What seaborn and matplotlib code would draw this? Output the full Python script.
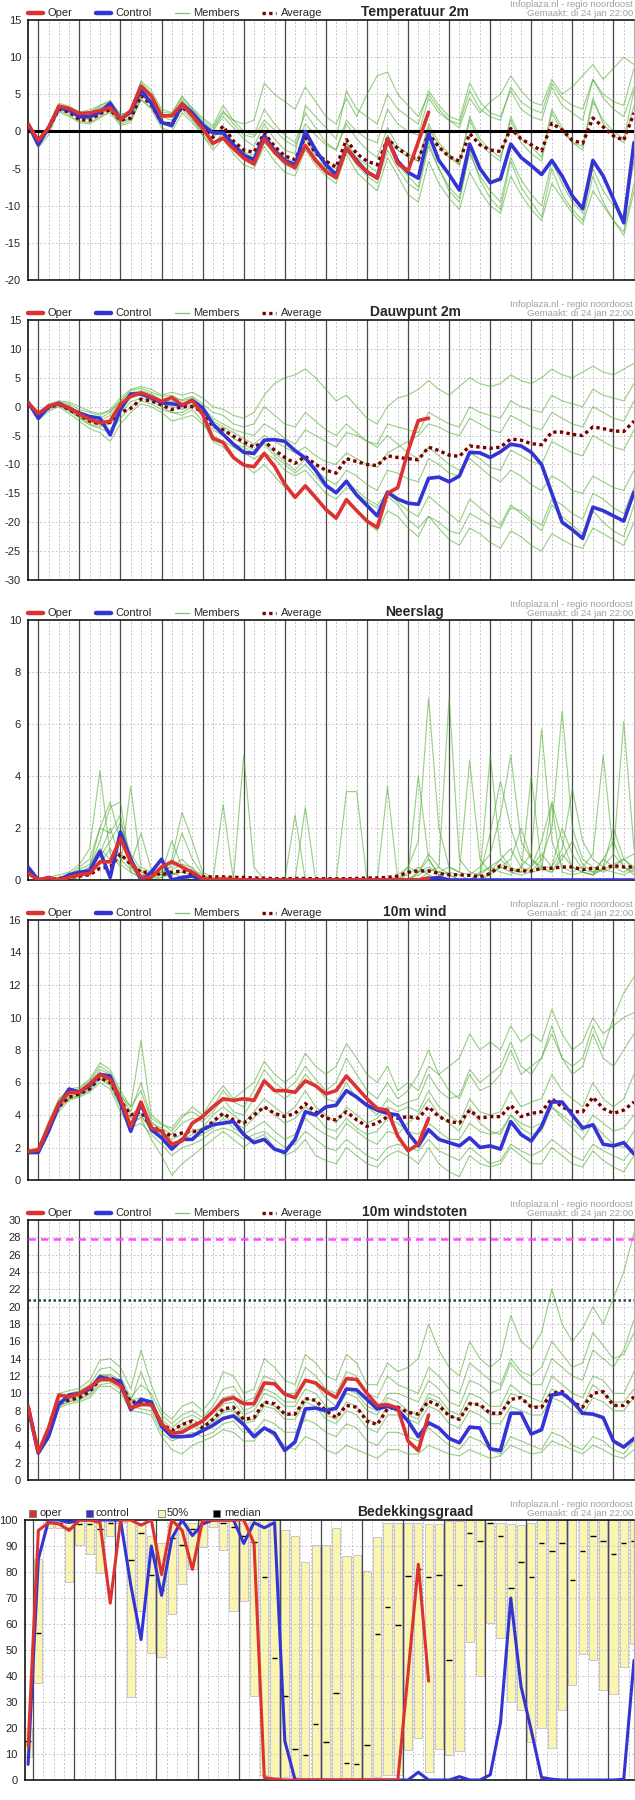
import numpy as np
import pandas as pd
import matplotlib
matplotlib.use('Agg')
import matplotlib.pyplot as plt
import seaborn as sns
from matplotlib.lines import Line2D
from matplotlib.patches import Rectangle

########################### data #################################################

day_labels = ['Wo 25', 'Do 26', 'Vr 27', 'Za 28', 'Zo 29', 'Ma 30', 'Di 31',
              'Wo 1', 'Do 2', 'Vr 3', 'Za 4', 'Zo 5', 'Ma 6', 'Di 7']

# hours after Wo 25 00:00, one value every 6 hours
hours = np.arange(60) * 6 - 6
cloud_hours = np.arange(60) * 6 - 3

# --- Temperatuur 2m
temp_oper = [1.0, -1.2, 0.5, 3.4, 3.1, 2.4, 2.5, 2.8, 3.2, 1.6, 2.8, 6.1,
             4.8, 2.1, 2.1, 3.7, 2.1, 0.4, -1.6, -0.9, -2.3, -3.6, -4.4, -1.0,
             -2.8, -4.1, -4.9, -1.9, -3.9, -5.4, -6.2, -2.2, -4.1, -5.4, -6.3, -1.0,
             -4.3, -5.3, -1.4, 2.6]
temp_control = [1.0, -1.8, 0.5, 3.2, 2.9, 2.0, 2.0, 2.6, 3.8, 1.6, 2.6, 5.6,
                3.8, 1.2, 0.8, 3.7, 2.5, 0.9, -0.2, -0.2, -1.8, -3.2, -3.8, -0.6,
                -2.6, -3.9, -4.5, 0.0, -2.5, -4.5, -5.8, -2.3, -3.9, -5.5, -6.2, -1.0,
                -4.0, -5.5, -6.3, -0.3, -3.9, -5.8, -7.9, -1.7, -5.0, -6.9, -6.4, -1.7,
                -3.5, -4.6, -5.8, -3.9, -6.0, -8.7, -10.4, -3.9, -6.0, -9.1, -12.3, -1.5]
temp_avg = [1.0, -1.5, 0.4, 3.0, 2.6, 1.6, 1.5, 2.4, 2.9, 1.5, 1.8, 4.8,
            3.6, 1.2, 1.0, 3.3, 2.2, 0.7, -0.8, 0.7, -1.3, -2.5, -2.8, -0.2,
            -2.0, -3.3, -3.8, -0.8, -2.9, -4.0, -4.8, -1.1, -3.0, -4.0, -4.5, -1.0,
            -2.3, -3.2, -3.8, -0.3, -2.1, -3.4, -4.0, -0.3, -1.8, -2.5, -2.7, 0.4,
            -1.0, -1.8, -2.6, 1.1, 0.2, -1.2, -1.6, 1.8, 0.6, -0.6, -1.2, 2.5]
temp_members = [
    [1.2, -1.0, 0.2, 3.6, 3.2, 2.6, 2.9, 3.5, 4.2, 2.0, 2.7, 6.6,
     5.0, 2.6, 2.4, 4.8, 3.0, 1.5, 0.5, 2.8, 1.0, -0.5, -0.8, 1.5,
     0.2, -1.2, -2.0, 1.0, -0.5, -1.8, -2.5, 1.5, 0.0, -1.0, -1.5, 3.0,
     1.0, 0.0, -0.5, 4.5, 2.5, 1.5, 1.0, 5.5, 3.0, 2.0, 1.5, 6.0,
     4.0, 3.0, 2.5, 6.5, 4.5, 3.5, 3.0, 7.0, 5.0, 4.0, 3.5, 8.5],
    [0.8, -2.2, -0.5, 2.8, 2.2, 1.4, 1.2, 2.0, 2.5, 0.8, 1.2, 4.4,
     3.0, 0.5, 0.0, 2.5, 1.2, -0.5, -2.5, -1.0, -3.0, -4.5, -5.0, -2.0,
     -4.0, -5.5, -6.0, -2.5, -4.5, -6.0, -7.0, -3.0, -5.5, -6.8, -8.0, -3.5,
     -6.0, -8.5, -9.5, -4.0, -7.0, -9.0, -10.5, -5.5, -8.0, -10.0, -11.0, -6.0,
     -8.5, -10.5, -12.0, -7.0, -9.0, -11.0, -12.5, -8.0, -10.0, -12.0, -13.5, -7.0],
    [1.1, -1.4, 0.5, 3.1, 2.5, 1.8, 1.6, 2.5, 3.0, 1.3, 1.9, 5.0,
     3.5, 1.0, 1.2, 3.5, 2.0, 0.5, -1.0, 0.8, -1.5, -2.8, -3.2, 0.0,
     -2.2, -3.5, -4.2, -1.0, -3.0, -4.5, -5.0, -1.5, -3.5, -4.5, -5.5, -0.5,
     -2.5, -3.5, -4.0, 0.5, -2.0, -3.5, -4.5, 1.5, -1.5, -3.0, -4.0, 2.0,
     -1.0, -2.0, -3.5, 3.0, 0.5, -1.5, -2.0, 4.5, 1.0, -0.5, -1.5, 3.5],
    [1.3, -1.6, 0.0, 3.3, 2.9, 2.2, 2.2, 3.0, 3.3, 1.8, 2.4, 5.8,
     4.5, 2.0, 1.5, 4.0, 2.5, 1.0, 0.0, 2.0, 0.5, -1.0, -2.0, 1.0,
     -1.0, -2.5, -3.0, 3.5, 2.0, 0.5, -1.0, 5.5, 3.0, 2.0, 1.0, 5.0,
     3.0, 2.0, 1.0, 5.5, 3.5, 2.0, 1.5, 6.5, 4.0, 2.5, 2.0, 5.5,
     3.0, 2.0, 1.5, 6.0, 3.5, 2.5, 1.5, 7.0, 4.5, 3.0, 2.0, 6.0],
    [0.9, -2.0, 0.3, 2.6, 2.0, 1.2, 1.0, 1.8, 2.8, 1.0, 1.5, 4.2,
     3.2, 1.5, 0.8, 3.0, 1.5, 0.0, -1.5, -0.5, -2.5, -3.5, -4.0, -1.5,
     -3.0, -4.5, -5.0, -2.0, -4.0, -5.5, -6.5, -2.5, -4.5, -6.0, -7.0, -2.5,
     -5.0, -7.0, -8.0, -2.0, -5.0, -7.5, -9.0, -3.0, -6.0, -8.0, -9.5, -3.5,
     -6.5, -8.5, -10.0, -4.0, -7.0, -9.5, -11.0, -5.0, -8.0, -10.0, -11.5, -4.0],
    [1.4, -1.2, 0.6, 3.8, 3.4, 2.6, 2.5, 3.2, 3.6, 2.2, 2.8, 6.8,
     5.5, 3.0, 2.5, 4.5, 3.2, 1.8, 0.8, 3.5, 1.5, 0.0, -0.5, 3.0,
     1.0, -0.5, -1.5, 2.5, 0.5, -1.5, -2.5, 1.0, -1.0, -2.5, -3.5, 0.5,
     -2.0, -3.0, -4.0, 1.0, -1.5, -3.0, -4.5, 2.0, -1.0, -2.5, -3.5, 1.5,
     -1.5, -3.0, -4.0, 2.5, 0.0, -1.5, -2.5, 4.0, 1.5, 0.0, -1.0, 5.5],
    [1.0, -1.8, 0.1, 2.9, 2.6, 1.9, 1.7, 2.3, 3.0, 1.4, 1.6, 4.9,
     3.9, 1.3, 0.5, 3.4, 1.8, -0.5, -2.0, 0.0, -2.0, -3.0, -3.5, -0.5,
     -2.5, -4.0, -4.5, -0.5, -3.5, -5.0, -6.0, -1.5, -4.0, -5.5, -6.5, -1.0,
     -4.5, -6.0, -7.5, -1.5, -5.0, -8.0, -9.5, -2.5, -6.5, -9.0, -10.5, -4.0,
     -7.5, -9.5, -11.5, -5.0, -8.5, -10.5, -12.0, -6.0, -9.5, -12.0, -14.0, -8.0],
    [1.2, -1.1, 0.4, 3.5, 3.0, 2.3, 2.6, 3.4, 4.0, 2.4, 2.3, 5.3,
     4.2, 2.2, 2.0, 4.2, 2.8, 1.2, 0.2, 2.5, 1.5, 1.0, 1.5, 6.5,
     5.0, 4.0, 3.0, 6.0, 4.0, 2.0, 1.0, 4.5, 2.0, 5.0, 7.5, 8.0,
     5.0, 3.5, 2.0, 5.0, 3.0, 1.5, 0.5, 4.5, 2.5, 4.0, 5.0, 7.5,
     5.5, 4.0, 3.5, 7.0, 5.0, 6.0, 7.5, 9.0, 7.0, 8.5, 10.0, 9.0],
]

# --- Dauwpunt 2m
dew_oper = [0.7, -1.2, 0.1, 0.5, -0.2, -1.3, -2.2, -2.8, -2.5, 0.4, 1.8, 2.4,
            1.7, 0.9, 1.6, 0.3, 1.1, -1.3, -5.5, -6.2, -8.8, -10.1, -10.4, -8.1,
            -10.3, -13.4, -15.7, -13.7, -15.7, -17.8, -19.3, -16.1, -18.0, -19.8, -20.9, -15.0,
            -14.0, -7.7, -2.4, -2.0]
dew_control = [0.8, -2.0, 0.0, 0.6, -0.3, -1.1, -1.7, -2.0, -4.9, -0.5, 2.2, 2.2,
               1.5, 0.7, 0.5, 0.2, 1.1, -0.2, -3.0, -4.8, -6.5, -7.9, -8.1, -5.8,
               -5.7, -6.0, -7.6, -8.9, -11.0, -13.6, -14.9, -12.9, -15.3, -17.1, -18.9, -14.8,
               -16.0, -16.7, -16.9, -12.4, -12.2, -13.0, -12.0, -7.9, -8.0, -8.8, -7.8, -6.5,
               -6.8, -7.9, -10.0, -15.0, -20.0, -21.3, -22.8, -17.4, -18.0, -18.9, -19.8, -14.8]
dew_avg = [0.7, -1.5, -0.2, 0.4, -0.5, -1.5, -2.5, -3.0, -2.7, -1.0, -0.3, 1.3,
           1.0, 0.3, -0.5, 0.0, 0.0, -0.9, -3.4, -4.0, -5.1, -6.1, -7.0, -6.0,
           -7.5, -8.8, -9.8, -8.6, -10.0, -11.0, -11.5, -9.0, -9.5, -10.0, -10.2, -8.5,
           -8.8, -9.0, -9.2, -7.0, -7.6, -8.4, -8.6, -6.8, -7.0, -7.2, -7.0, -5.6,
           -5.8, -6.4, -6.6, -4.4, -4.4, -4.8, -5.0, -3.5, -3.8, -4.2, -4.3, -2.5]
dew_members = [
    [0.9, -1.5, 0.2, 0.6, 0.0, -1.0, -1.8, -2.0, -1.0, 1.0, 2.8, 3.2,
     2.5, 1.8, 2.0, 1.0, 1.5, 0.0, -2.0, -3.0, -4.0, -4.5, -5.0, -3.0,
     -4.0, -5.5, -6.5, -4.0, -5.0, -6.0, -7.0, -4.5, -5.0, -6.0, -6.5, -3.0,
     -3.5, -4.0, -4.5, -1.0, -2.0, -3.0, -3.5, 0.0, -1.0, -1.5, -2.0, 1.0,
     0.0, -0.5, -1.0, 2.0, 1.0, 0.5, 0.0, 3.0, 2.0, 1.5, 1.0, 4.0],
    [0.6, -2.2, -0.5, 0.2, -0.8, -2.0, -3.2, -3.8, -4.5, -2.0, 0.0, 1.0,
     0.5, -0.5, -1.0, -1.5, -0.5, -2.5, -6.0, -7.0, -9.0, -10.0, -11.5, -10.0,
     -12.0, -14.0, -15.5, -14.0, -16.0, -17.5, -19.0, -16.5, -18.0, -20.0, -21.5, -18.0,
     -19.0, -21.0, -22.5, -19.0, -20.0, -21.5, -22.0, -18.5, -19.5, -20.5, -21.0, -17.5,
     -18.0, -19.5, -20.5, -16.0, -17.0, -18.5, -19.5, -15.0, -16.0, -17.5, -18.5, -14.0],
    [0.7, -1.8, -0.2, 0.5, -0.3, -1.6, -2.6, -3.2, -2.8, -0.5, 1.5, 2.0,
     1.5, 0.5, 0.0, -0.5, 0.5, -1.5, -4.0, -5.0, -6.5, -7.0, -8.0, -6.0,
     -8.0, -9.5, -11.0, -9.0, -11.0, -12.5, -13.5, -11.0, -12.0, -13.5, -14.5, -11.0,
     -11.5, -12.5, -13.0, -9.0, -10.0, -11.5, -12.0, -8.0, -9.0, -10.5, -11.0, -7.5,
     -8.5, -9.5, -10.0, -6.0, -7.0, -8.0, -8.5, -5.0, -6.0, -7.0, -7.5, -4.0],
    [0.8, -1.2, 0.3, 0.8, 0.5, -0.5, -1.0, -1.5, -0.5, 1.5, 3.0, 3.5,
     3.0, 2.0, 2.5, 2.0, 2.5, 1.5, 0.0, -0.5, -1.5, -2.0, -1.0, 2.0,
     4.0, 5.0, 5.5, 6.5, 5.0, 3.0, 1.0, 2.0, 0.0, -2.0, -3.0, 0.0,
     1.5, 2.0, 3.0, 4.5, 3.0, 2.0, 3.5, 5.0, 4.0, 3.5, 4.0, 5.5,
     4.5, 4.0, 5.0, 6.5, 5.5, 5.0, 6.0, 7.0, 6.0, 5.5, 6.5, 7.5],
    [0.7, -2.0, 0.0, 0.3, -0.6, -1.8, -3.0, -3.5, -3.0, -1.0, 0.8, 1.5,
     1.0, 0.0, -1.0, -1.0, 0.0, -1.0, -3.0, -4.0, -5.5, -6.5, -7.5, -6.5,
     -8.5, -10.0, -11.5, -10.0, -12.0, -14.0, -15.0, -13.0, -14.5, -16.0, -17.0, -15.0,
     -16.5, -18.0, -19.0, -15.5, -17.0, -18.5, -20.0, -16.0, -17.5, -19.0, -20.5, -17.0,
     -18.5, -20.0, -21.5, -17.0, -19.0, -20.5, -22.0, -18.0, -20.0, -21.5, -22.5, -17.0],
    [0.8, -1.6, 0.1, 0.7, 0.2, -1.2, -2.2, -2.5, -1.5, 0.5, 2.2, 2.6,
     2.0, 1.0, 1.0, 0.5, 1.0, -0.5, -2.5, -3.5, -4.5, -5.5, -6.5, -5.0,
     -6.0, -7.0, -8.0, -7.0, -8.5, -9.5, -10.0, -8.0, -9.0, -10.0, -10.5, -8.0,
     -7.0, -6.0, -5.0, -3.0, -3.5, -4.5, -5.0, -2.0, -3.0, -4.0, -4.5, -1.5,
     -2.5, -3.5, -4.0, -1.0, -2.0, -3.0, -3.5, 0.0, -1.0, -2.0, -2.5, 1.0],
    [0.9, -1.4, 0.5, 1.0, 0.8, 0.0, -0.8, -1.2, -0.8, 1.0, 2.4, 2.8,
     2.2, 1.2, 1.5, 1.2, 1.8, 0.5, -1.0, -1.5, -3.0, -3.5, -3.0, 0.0,
     -1.5, -3.0, -3.5, -1.0, -2.5, -4.0, -5.0, -3.0, -4.5, -6.0, -7.0, -5.0,
     -6.5, -8.0, -9.0, -7.0, -8.5, -10.0, -11.0, -9.0, -10.5, -12.0, -13.0, -11.0,
     -12.0, -13.5, -14.5, -12.0, -13.0, -14.5, -15.0, -12.0, -13.0, -14.0, -14.5, -11.0],
    [0.6, -2.4, -0.8, 0.0, -1.2, -2.5, -3.8, -4.5, -6.0, -3.0, -1.0, 0.5,
     0.0, -1.0, -2.5, -2.0, -1.5, -3.0, -5.0, -6.0, -7.0, -8.0, -9.0, -8.0,
     -9.0, -11.0, -12.0, -11.0, -13.0, -15.0, -16.0, -14.0, -15.0, -16.5, -17.5, -15.5,
     -17.0, -19.5, -21.0, -19.0, -21.0, -23.0, -24.0, -21.0, -22.0, -23.5, -24.5, -21.5,
     -22.5, -24.0, -25.0, -22.0, -23.0, -24.0, -24.5, -21.0, -22.0, -23.0, -24.0, -20.0],
]

# --- Neerslag
rain_oper = [0.27, 0.0, 0.1, 0.0, 0.1, 0.2, 0.25, 0.7, 0.7, 1.6, 0.7, 0.1,
             0.1, 0.5, 0.7, 0.5, 0.3, 0.05, 0.0, 0.05, 0.02, 0.0, 0.0, 0.0,
             0.0, 0.0, 0.0, 0.0, 0.0, 0.0, 0.0, 0.0, 0.0, 0.0, 0.0, 0.0,
             0.0, 0.0, 0.0, 0.08]
rain_control = [0.5, 0.0, 0.0, 0.0, 0.2, 0.3, 0.35, 1.1, 0.1, 1.85, 0.8, 0.0,
                0.3, 0.8, 0.0, 0.1, 0.15, 0.0, 0.0, 0.0, 0.0, 0.0, 0.0, 0.0,
                0.0, 0.0, 0.0, 0.0, 0.0, 0.0, 0.0, 0.0, 0.0, 0.0, 0.0, 0.0,
                0.0, 0.0, 0.0, 0.05, 0.1, 0.0, 0.0, 0.0, 0.0, 0.0, 0.0, 0.0,
                0.0, 0.0, 0.0, 0.0, 0.0, 0.0, 0.0, 0.0, 0.0, 0.0, 0.0, 0.0]
rain_avg = [0.3, 0.02, 0.05, 0.05, 0.1, 0.15, 0.2, 0.45, 0.5, 1.0, 0.6, 0.3,
            0.3, 0.2, 0.3, 0.35, 0.2, 0.12, 0.12, 0.12, 0.1, 0.1, 0.08, 0.07,
            0.05, 0.05, 0.06, 0.06, 0.05, 0.05, 0.05, 0.05, 0.06, 0.08, 0.08, 0.1,
            0.15, 0.3, 0.35, 0.35, 0.25, 0.2, 0.2, 0.18, 0.12, 0.25, 0.55, 0.4,
            0.35, 0.35, 0.45, 0.45, 0.5, 0.5, 0.4, 0.45, 0.45, 0.55, 0.5, 0.5]
rain_members = [
    [0.3, 0.0, 0.0, 0.1, 0.2, 0.5, 0.8, 2.0, 3.0, 1.5, 0.8, 0.3,
     0.2, 0.5, 0.3, 0.1, 0.0, 0.0, 0.0, 0.0, 0.0, 0.0, 0.0, 0.0,
     0.0, 0.0, 0.0, 0.0, 0.0, 0.0, 0.0, 0.0, 0.0, 0.0, 0.0, 0.0,
     0.0, 0.5, 1.5, 7.0, 2.0, 0.5, 0.3, 0.2, 0.5, 1.0, 2.5, 4.8,
     1.5, 0.8, 0.4, 0.3, 1.0, 0.5, 0.3, 0.2, 0.8, 1.5, 0.5, 0.2],
    [0.2, 0.0, 0.1, 0.2, 0.3, 0.6, 1.2, 4.2, 1.0, 0.5, 3.6, 0.5,
     0.3, 0.2, 0.8, 2.6, 1.5, 0.3, 0.1, 0.0, 0.0, 4.8, 0.5, 0.0,
     0.0, 0.0, 0.0, 0.0, 0.0, 0.0, 0.0, 0.0, 0.0, 0.0, 0.0, 0.0,
     0.2, 0.5, 0.3, 1.0, 0.5, 7.0, 0.8, 0.3, 0.2, 0.5, 0.8, 1.2,
     0.5, 0.3, 0.8, 2.0, 6.5, 2.0, 0.8, 0.5, 0.3, 0.5, 0.8, 1.0],
    [0.4, 0.0, 0.0, 0.0, 0.1, 0.3, 0.5, 1.5, 2.8, 3.0, 0.5, 0.2,
     0.1, 0.3, 0.5, 0.8, 0.4, 0.2, 0.0, 2.9, 0.0, 0.0, 0.0, 0.0,
     0.0, 0.0, 2.5, 0.0, 0.0, 0.0, 0.0, 3.4, 3.4, 0.0, 0.0, 0.0,
     0.0, 0.0, 0.3, 0.5, 0.3, 0.2, 0.0, 0.0, 0.2, 1.8, 3.8, 2.0,
     0.8, 0.5, 1.5, 3.0, 1.5, 0.5, 0.3, 0.2, 0.5, 1.0, 6.1, 1.2],
    [0.3, 0.0, 0.0, 0.0, 0.0, 0.1, 0.3, 1.0, 2.0, 0.8, 0.4, 0.2,
     0.2, 0.2, 0.2, 0.3, 0.2, 0.0, 0.0, 0.0, 0.0, 0.0, 0.0, 0.0,
     0.0, 0.0, 0.0, 2.8, 0.0, 0.0, 0.0, 0.0, 0.0, 0.0, 0.0, 3.6,
     0.0, 0.3, 4.0, 0.8, 0.2, 0.0, 0.0, 0.0, 0.3, 0.5, 0.3, 0.2,
     0.5, 1.0, 5.8, 1.5, 0.5, 0.3, 0.5, 1.0, 4.8, 1.0, 0.5, 0.3],
    [0.2, 0.0, 0.0, 0.1, 0.2, 0.3, 0.4, 0.9, 1.5, 2.2, 1.0, 0.4,
     0.1, 0.1, 0.2, 0.4, 0.3, 0.1, 0.0, 0.0, 0.0, 0.0, 0.0, 0.0,
     0.0, 0.0, 0.0, 0.0, 0.0, 0.0, 0.0, 0.0, 0.0, 0.0, 0.0, 0.0,
     0.0, 0.0, 0.2, 0.4, 0.3, 0.5, 0.3, 4.6, 0.8, 0.3, 0.5, 0.8,
     2.0, 0.8, 0.5, 0.5, 1.2, 3.5, 1.5, 0.8, 0.5, 2.0, 0.8, 0.5],
    [0.5, 0.0, 0.0, 0.0, 0.1, 0.2, 0.5, 2.0, 1.8, 2.5, 0.3, 0.1,
     0.0, 0.1, 0.4, 0.6, 0.5, 0.0, 0.0, 0.0, 0.0, 0.0, 0.0, 0.0,
     0.0, 0.0, 0.0, 0.0, 0.0, 0.0, 0.0, 0.0, 0.0, 0.0, 0.0, 0.0,
     0.0, 0.2, 0.5, 0.2, 0.0, 0.0, 0.0, 0.0, 0.0, 0.2, 0.5, 0.3,
     0.2, 0.3, 0.4, 2.9, 0.3, 0.2, 0.3, 0.2, 0.4, 0.3, 0.2, 0.4],
    [0.3, 0.0, 0.0, 0.0, 0.2, 0.4, 0.6, 1.2, 0.8, 1.0, 0.6, 1.8,
     0.4, 0.3, 1.5, 0.5, 0.2, 0.0, 0.0, 0.0, 0.0, 0.0, 0.0, 0.0,
     0.0, 0.0, 0.0, 0.0, 0.0, 0.0, 0.0, 0.0, 0.0, 0.0, 0.0, 0.0,
     0.0, 0.0, 0.3, 0.8, 0.2, 0.3, 0.2, 0.0, 0.2, 4.8, 1.0, 0.5,
     0.3, 0.5, 1.0, 0.5, 2.0, 1.0, 0.4, 0.3, 0.8, 0.5, 0.3, 0.5],
    [0.2, 0.0, 0.0, 0.0, 0.1, 0.2, 0.3, 0.6, 1.2, 0.6, 0.3, 0.1,
     0.1, 0.2, 0.6, 1.8, 0.8, 0.2, 0.0, 0.0, 0.0, 0.0, 0.0, 0.0,
     0.0, 0.0, 0.0, 0.0, 0.0, 0.0, 0.0, 0.0, 0.0, 0.0, 0.0, 0.0,
     0.0, 0.0, 0.0, 0.3, 0.5, 0.2, 0.0, 0.0, 0.0, 0.3, 0.8, 0.4,
     0.3, 4.0, 0.5, 0.3, 0.8, 1.5, 0.6, 0.3, 0.4, 0.6, 0.8, 0.4],
]

# --- 10m wind
wind_oper = [1.75, 1.85, 3.3, 4.7, 5.4, 5.4, 5.9, 6.5, 6.2, 5.0, 3.3, 4.8,
             3.2, 3.0, 2.2, 2.4, 3.5, 3.9, 4.5, 5.0, 4.9, 5.0, 4.9, 6.1,
             5.5, 5.5, 5.4, 6.1, 5.8, 5.3, 5.5, 6.4, 5.7, 5.0, 4.4, 4.3,
             2.7, 1.8, 2.2, 3.8]
wind_control = [1.7, 1.7, 3.0, 4.6, 5.6, 5.4, 5.8, 6.5, 6.4, 4.8, 3.0, 4.7,
                3.1, 2.6, 1.9, 2.5, 2.5, 3.1, 3.4, 3.5, 3.6, 2.8, 2.3, 2.5,
                1.9, 1.7, 2.5, 4.2, 4.0, 4.5, 4.6, 5.5, 5.1, 4.6, 4.3, 4.1,
                4.0, 2.9, 2.1, 3.1, 2.5, 2.3, 2.1, 2.6, 2.0, 2.1, 1.9, 3.6,
                2.8, 2.4, 3.3, 4.8, 4.8, 4.0, 3.2, 3.4, 2.2, 2.1, 2.3, 1.6]
wind_avg = [1.7, 1.8, 3.2, 4.5, 5.1, 5.3, 5.6, 6.3, 6.0, 4.9, 4.0, 4.2,
            3.3, 3.0, 2.7, 2.9, 3.0, 3.0, 3.6, 4.1, 3.7, 3.5, 4.0, 4.5,
            4.1, 3.9, 4.1, 4.7, 4.2, 3.8, 3.7, 4.2, 3.7, 3.3, 3.5, 3.9,
            3.8, 3.9, 3.8, 4.5, 3.9, 3.6, 3.5, 4.3, 3.8, 3.9, 3.9, 4.6,
            3.9, 4.1, 4.2, 5.0, 4.5, 4.2, 4.2, 5.1, 4.4, 4.1, 4.3, 4.8]
wind_members = [
    [1.8, 1.9, 3.4, 4.8, 5.3, 5.5, 6.0, 6.8, 6.5, 5.0, 4.0, 4.5,
     3.5, 3.2, 2.8, 3.5, 3.8, 3.6, 4.2, 5.0, 4.2, 4.0, 5.0, 6.2,
     5.5, 5.0, 5.5, 6.5, 5.8, 5.0, 4.8, 6.0, 5.0, 4.5, 4.0, 5.0,
     4.5, 4.8, 5.0, 6.5, 5.5, 5.0, 5.2, 6.8, 6.0, 6.5, 7.0, 8.5,
     7.0, 6.5, 7.5, 9.0, 7.5, 7.0, 7.5, 9.5, 8.0, 10.0, 11.5, 12.5],
    [1.6, 1.7, 3.0, 4.2, 4.9, 5.1, 5.4, 6.0, 5.6, 4.2, 3.2, 3.5,
     2.8, 2.2, 1.5, 2.0, 2.2, 2.5, 3.0, 3.2, 3.0, 2.5, 2.8, 3.0,
     2.5, 2.0, 2.2, 3.0, 2.5, 2.0, 1.8, 2.5, 2.0, 1.5, 1.2, 2.0,
     2.2, 2.0, 1.8, 2.5, 1.8, 1.5, 1.2, 2.0, 1.5, 1.0, 1.2, 2.2,
     1.8, 1.5, 1.8, 2.5, 2.0, 1.5, 1.2, 2.2, 1.8, 1.5, 1.2, 2.0],
    [1.7, 1.8, 3.2, 4.6, 5.2, 5.3, 5.8, 6.6, 6.2, 5.2, 4.5, 5.5,
     3.6, 3.0, 2.5, 2.8, 3.0, 3.2, 4.0, 4.5, 4.0, 3.5, 4.2, 5.0,
     4.5, 4.0, 4.5, 5.5, 4.5, 4.0, 3.5, 4.5, 4.0, 3.5, 3.8, 4.5,
     4.2, 4.5, 4.2, 5.5, 4.5, 4.0, 3.5, 5.0, 4.2, 4.0, 4.2, 5.5,
     4.5, 4.8, 5.0, 6.5, 5.5, 5.0, 4.5, 6.0, 5.0, 4.5, 5.0, 6.5],
    [1.8, 2.0, 3.6, 5.0, 5.6, 5.7, 6.2, 7.2, 6.8, 5.5, 4.5, 8.6,
     4.0, 3.5, 3.0, 3.8, 4.5, 4.0, 5.0, 5.8, 5.0, 5.5, 6.0, 7.3,
     6.5, 6.0, 6.5, 7.8, 7.0, 6.5, 7.0, 8.4, 7.5, 6.5, 6.0, 7.0,
     5.5, 6.0, 5.5, 7.0, 6.5, 7.0, 7.5, 9.0, 8.0, 8.5, 8.0, 9.5,
     8.5, 9.0, 8.5, 10.5, 9.0, 8.0, 8.5, 10.0, 9.0, 9.5, 10.0, 10.3],
    [1.6, 1.6, 2.9, 4.4, 5.0, 5.2, 5.5, 6.2, 5.8, 4.5, 3.5, 3.8,
     2.5, 1.5, 0.3, 1.0, 1.5, 2.0, 2.5, 3.0, 2.5, 2.0, 2.5, 2.8,
     2.0, 1.5, 1.8, 2.5, 1.5, 1.2, 1.0, 2.0, 1.5, 1.0, 0.8, 1.5,
     1.8, 1.5, 1.0, 2.0, 1.0, 0.5, 0.2, 1.5, 1.0, 0.8, 1.0, 2.0,
     1.5, 1.0, 1.0, 2.0, 1.5, 1.0, 0.8, 1.8, 1.2, 0.8, 0.5, 1.5],
    [1.7, 1.8, 3.1, 4.5, 5.1, 5.4, 5.7, 6.4, 6.0, 4.8, 3.8, 4.0,
     3.0, 2.6, 2.0, 2.5, 2.8, 3.2, 3.5, 4.0, 3.5, 3.2, 3.8, 4.5,
     4.0, 3.5, 3.8, 4.5, 4.0, 3.2, 3.0, 3.8, 3.2, 2.8, 3.0, 3.8,
     3.5, 3.0, 2.8, 3.5, 3.0, 2.5, 2.5, 3.5, 3.0, 2.8, 3.0, 4.0,
     3.5, 3.2, 3.5, 4.5, 4.0, 3.5, 3.0, 4.0, 3.5, 3.0, 3.2, 4.0],
    [1.8, 1.9, 3.5, 4.9, 5.5, 5.6, 6.1, 7.0, 6.6, 5.3, 4.2, 6.0,
     3.8, 3.4, 3.2, 4.0, 4.2, 3.8, 4.5, 5.5, 4.8, 4.5, 5.5, 6.8,
     6.0, 5.5, 6.0, 7.0, 6.2, 5.5, 6.0, 7.5, 6.5, 5.5, 5.0, 6.0,
     5.0, 5.5, 6.5, 8.0, 6.5, 5.5, 5.0, 6.5, 5.5, 5.8, 6.5, 8.0,
     6.5, 7.0, 7.5, 9.5, 7.5, 6.5, 7.0, 9.0, 7.5, 7.0, 8.0, 9.0],
    [1.7, 1.7, 3.0, 4.5, 5.0, 5.2, 5.6, 6.3, 5.9, 4.6, 3.4, 3.9,
     3.2, 2.8, 2.2, 2.6, 2.5, 2.8, 3.2, 3.8, 3.2, 2.8, 3.2, 3.6,
     3.0, 2.5, 2.8, 3.8, 3.2, 2.8, 2.5, 3.5, 3.0, 2.5, 2.2, 3.0,
     2.8, 3.5, 4.0, 5.0, 4.0, 3.5, 3.0, 4.5, 3.5, 3.0, 2.8, 4.0,
     3.2, 2.8, 3.0, 4.5, 3.8, 3.2, 2.5, 3.5, 2.8, 2.2, 2.0, 3.0],
]

# --- 10m windstoten
gust_oper = [8.6, 3.2, 6.0, 9.8, 9.6, 10.0, 10.7, 11.6, 11.6, 10.9, 8.3, 8.7,
             8.7, 6.5, 5.4, 5.5, 6.2, 6.8, 7.9, 9.2, 9.5, 8.8, 8.8, 11.2,
             11.1, 9.9, 9.5, 11.5, 11.2, 10.2, 9.5, 11.7, 11.6, 10.0, 8.6, 8.7,
             8.3, 4.5, 3.4, 7.5]
gust_control = [8.4, 3.1, 5.0, 8.7, 9.8, 10.0, 10.5, 11.9, 11.6, 11.4, 8.1, 9.3,
                9.0, 6.2, 5.0, 5.0, 5.1, 5.7, 6.3, 7.1, 7.4, 6.4, 5.0, 6.0,
                5.4, 3.4, 4.4, 8.2, 8.3, 8.0, 8.3, 10.5, 10.4, 9.3, 8.2, 8.5,
                8.1, 6.8, 5.0, 6.6, 6.0, 4.8, 4.3, 6.1, 6.0, 3.6, 3.4, 7.7,
                7.7, 5.3, 5.8, 9.8, 10.0, 9.1, 7.7, 7.6, 7.2, 4.5, 3.8, 4.8]
gust_avg = [8.5, 3.3, 5.5, 8.9, 9.2, 9.5, 10.2, 11.6, 11.8, 11.2, 9.0, 9.0,
            8.8, 6.5, 5.7, 6.4, 6.8, 6.0, 7.0, 8.2, 8.4, 7.0, 7.2, 9.0,
            8.8, 7.6, 7.6, 9.4, 9.2, 8.0, 7.2, 8.6, 8.4, 6.8, 6.4, 8.2,
            8.4, 7.8, 7.6, 9.1, 8.6, 7.4, 7.0, 8.8, 8.7, 7.7, 7.7, 9.3,
            9.5, 8.4, 8.4, 10.0, 10.2, 9.0, 8.4, 10.0, 10.2, 8.6, 8.6, 9.6]
gust_members = [
    [8.5, 3.2, 5.8, 9.2, 9.5, 9.8, 10.6, 12.0, 12.2, 11.5, 9.2, 9.5,
     9.0, 7.0, 6.0, 7.0, 7.5, 6.8, 7.8, 9.5, 9.8, 8.0, 8.5, 10.5,
     10.0, 9.0, 9.0, 11.5, 11.0, 9.5, 8.5, 10.5, 10.0, 8.5, 8.0, 10.0,
     10.0, 9.5, 9.0, 11.5, 10.5, 9.0, 8.5, 11.5, 11.0, 10.0, 10.5, 13.5,
     12.0, 11.0, 11.0, 14.0, 13.0, 12.0, 11.5, 15.0, 14.0, 13.0, 15.0, 18.5],
    [8.3, 3.0, 5.0, 8.5, 9.0, 9.2, 9.8, 11.0, 11.2, 10.5, 8.5, 8.2,
     8.0, 5.5, 4.5, 5.0, 5.5, 5.0, 5.5, 6.5, 6.8, 5.5, 5.5, 7.0,
     6.5, 5.5, 5.5, 7.0, 6.5, 5.5, 5.0, 6.5, 6.0, 4.5, 4.0, 5.5,
     5.5, 5.0, 4.5, 6.0, 5.0, 4.0, 3.5, 5.0, 4.5, 3.5, 3.0, 5.0,
     4.5, 4.0, 3.5, 5.5, 5.0, 4.0, 3.5, 5.0, 4.5, 3.5, 3.0, 4.5],
    [8.6, 3.3, 6.0, 9.5, 10.0, 10.3, 11.0, 12.8, 13.0, 12.0, 9.5, 11.0,
     10.0, 7.5, 6.5, 7.5, 8.0, 7.2, 8.5, 10.5, 10.8, 9.0, 9.5, 12.0,
     11.5, 10.0, 10.0, 13.0, 12.0, 10.5, 10.0, 12.5, 12.0, 10.0, 9.5, 12.0,
     11.0, 10.5, 10.0, 13.0, 12.0, 10.5, 10.0, 13.5, 12.5, 11.5, 11.0, 14.0,
     12.5, 12.0, 13.0, 16.0, 14.5, 13.0, 13.5, 17.0, 15.5, 14.0, 14.5, 17.0],
    [8.4, 3.1, 5.3, 8.8, 9.3, 9.6, 10.3, 11.8, 11.6, 11.0, 8.8, 9.0,
     8.6, 6.0, 5.0, 5.8, 6.2, 5.5, 6.5, 7.8, 8.0, 6.5, 6.8, 8.5,
     8.2, 7.0, 7.0, 9.0, 8.5, 7.0, 6.5, 8.0, 7.5, 6.0, 5.5, 7.5,
     7.5, 7.0, 6.5, 8.5, 8.0, 6.5, 6.0, 8.0, 7.5, 6.5, 6.5, 8.5,
     8.0, 7.5, 7.5, 9.5, 9.0, 8.0, 7.5, 9.5, 9.0, 8.0, 8.0, 9.5],
    [8.7, 3.4, 6.2, 10.0, 10.3, 10.6, 11.5, 13.8, 14.0, 13.0, 10.5, 15.0,
     11.0, 8.0, 7.0, 8.5, 9.0, 8.0, 9.5, 12.5, 12.0, 10.0, 10.5, 14.0,
     13.0, 11.5, 11.0, 14.5, 13.5, 12.0, 11.5, 14.5, 13.5, 11.0, 11.0, 13.5,
     12.5, 13.0, 14.0, 18.0, 15.0, 13.0, 12.0, 16.0, 14.0, 13.0, 14.0, 19.0,
     16.0, 15.0, 17.0, 22.0, 18.0, 16.0, 17.5, 20.0, 18.0, 21.0, 24.0, 28.5],
    [8.2, 2.9, 4.8, 8.3, 8.8, 9.0, 9.5, 10.8, 10.8, 10.0, 8.0, 7.8,
     7.5, 5.0, 3.5, 3.0, 4.0, 4.5, 5.0, 5.8, 5.5, 4.5, 4.5, 6.0,
     5.0, 4.0, 3.5, 5.0, 4.5, 3.5, 3.0, 4.0, 3.5, 3.0, 2.5, 3.5,
     3.5, 3.0, 3.0, 4.0, 3.5, 3.0, 2.8, 3.5, 3.0, 2.5, 2.8, 4.0,
     3.5, 3.0, 3.2, 4.5, 4.0, 3.5, 3.0, 4.0, 3.5, 2.8, 2.5, 3.5],
    [8.5, 3.2, 5.5, 9.0, 9.4, 9.7, 10.4, 12.2, 12.0, 11.2, 9.0, 12.5,
     9.5, 6.5, 5.5, 6.5, 7.0, 6.2, 7.2, 8.8, 9.0, 7.5, 8.0, 10.0,
     9.5, 8.5, 8.5, 10.5, 10.0, 8.5, 8.0, 10.0, 9.5, 8.0, 7.5, 9.5,
     9.0, 8.0, 7.5, 10.0, 9.5, 8.0, 7.5, 10.0, 9.5, 8.5, 8.5, 11.0,
     10.0, 9.5, 9.0, 12.0, 11.0, 10.0, 9.5, 12.0, 11.5, 10.0, 10.0, 12.5],
    [8.4, 3.1, 5.2, 8.6, 9.1, 9.4, 10.0, 11.4, 11.4, 10.8, 8.6, 8.8,
     8.4, 6.2, 5.2, 6.0, 6.5, 5.8, 6.8, 8.0, 8.2, 6.8, 7.0, 9.0,
     8.5, 7.5, 7.5, 9.5, 9.0, 7.5, 7.0, 9.0, 8.5, 7.0, 6.5, 8.5,
     8.5, 7.5, 7.0, 9.5, 9.0, 7.5, 7.0, 9.0, 8.5, 7.5, 7.5, 10.0,
     9.5, 8.5, 8.5, 10.5, 10.0, 9.0, 8.5, 11.0, 10.0, 9.0, 9.0, 10.5],
]
gust_warn_high = 27.8
gust_warn_low = 20.8

# --- Bedekkingsgraad
cloud_oper = [13, 96, 99, 98.5, 96, 100, 100, 99, 68, 100, 100, 98,
              100, 79, 100, 96, 81, 100, 100, 100, 100, 100, 91, 1,
              0.3, 0, 0, 0, 0, 0, 0, 0, 0, 0, 0, 0,
              0, 41, 83, 38]
cloud_control = [6, 85, 100, 100, 99, 100, 100, 100, 100, 100, 75, 54,
                 90, 71, 93, 100, 94, 98.5, 100, 100, 100, 91, 99, 97,
                 99, 15, 0, 0, 0, 0, 0, 0, 0, 0, 0, 0,
                 0, 0, 3, 0, 0, 0, 1.3, 0, 0, 2, 22, 70,
                 36, 19, 1, 0.3, 0, 0, 0, 0, 0, 0, 0.3, 46]
cloud_low = [9, 37.5, 97, 97, 76, 90.5, 87, 79.5, 94, 99, 32, 65,
             49, 47.5, 64, 75.5, 81, 89.5, 97.5, 88.5, 65, 69, 32.5, 2,
             1, 1, 1, 0.5, 0.5, 0.5, 0.5, 0.5, 0.5, 0.5, 1, 2,
             2, 11.5, 16, 3, 12, 9.5, 11, 53, 40, 60.5, 54.5, 30,
             27, 14.5, 20, 12.5, 27, 36.5, 48.5, 46, 34.5, 33, 43.5, 52.5]
cloud_high = [20, 85, 100, 100, 100, 100, 100, 100, 100, 100, 100, 99,
              94, 91, 99, 99, 99, 100, 100, 100, 100, 99, 100, 100,
              100, 96, 94, 84, 90.5, 90.5, 97, 86, 86.5, 80.5, 93.5, 99,
              99, 99, 99, 98.5, 98.5, 99.5, 99.5, 100, 100, 99, 99, 98.5,
              98, 99, 100, 100, 100, 100, 100, 100, 100, 100, 100, 100]
cloud_median = [15, 56.5, 99, 99, 97, 98.5, 98.5, 96.5, 99, 100, 84.5, 95,
                79, 73, 93, 90.5, 96.5, 99, 100, 99, 97.5, 94, 91.5, 78,
                47, 32.5, 12, 9.7, 21.5, 14.5, 33.5, 6.5, 6, 13.5, 56, 66.5,
                59.5, 78.5, 81, 78, 79, 46, 75, 95, 92, 99, 94, 74,
                84, 78, 91, 88, 91, 77, 88, 94, 92, 87, 91, 92]

########################### styling ############################

RED = '#dc3232'
BLUE = '#3434d4'
GREEN = '#4caa2c'
AVG = '#780000'
YELLOW = '#faf6b0'

W, H = 635, 1800

sns.set_style('white')
plt.rcParams['font.family'] = ['Liberation Sans', 'DejaVu Sans']

fig = plt.figure(figsize=(W / 100, H / 100), dpi=100)
fig.patch.set_facecolor('white')


def fx(x):
    return x / W


def fy(y):
    return 1 - y / H


def add_panel(i, left=28):
    top = 20 + 300 * i
    return fig.add_axes([left / W, 1 - (top + 260) / H, (634 - left) / W, 260 / H])


def style_panel(ax, xlim, ylim, ystep):
    ax.set_xlim(*xlim)
    ax.set_ylim(*ylim)
    yt = np.arange(ylim[0], ylim[1] + 0.01, ystep)
    ax.set_yticks(yt)
    ax.set_yticklabels([f'{v:g}' for v in yt])
    six = [t for t in range(-6, 360, 6) if xlim[0] <= t <= xlim[1]]
    ax.set_xticks(six)
    ax.set_xticklabels([''] * len(six))
    ax.set_xticks([24 * d + 12 for d in range(len(day_labels))], minor=True)
    ax.set_xticklabels(day_labels, minor=True)
    ax.tick_params(axis='x', which='major', length=4, width=0.8, color='black', direction='out')
    ax.tick_params(axis='x', which='minor', length=0, pad=5, labelsize=7.5)
    ax.tick_params(axis='y', length=4, width=0.8, color='black', direction='out', pad=1, labelsize=8)
    for t in six:
        if t % 24 != 0:
            ax.axvline(t, color='#c4c4c4', lw=0.7, ls=(0, (2, 2)), zorder=1.2)
    for t in range(0, 360, 24):
        if xlim[0] < t < xlim[1]:
            ax.axvline(t, color='#4a4a4a', lw=0.9, zorder=1.4)
    for v in yt[1:-1]:
        ax.axhline(v, color='#cfc3cf', lw=0.7, ls=(0, (2, 2)), zorder=1.2)
    for side in ['left', 'bottom', 'top']:
        ax.spines[side].set_color('black')
        ax.spines[side].set_linewidth(1.1)
    ax.spines['right'].set_color('#b0b0b0')
    ax.spines['right'].set_linewidth(0.8)
    ax.set_xlabel('')
    ax.set_ylabel('')


def header(i, title, cloud=False):
    top = 20 + 300 * i
    yl = top - 7
    if not cloud:
        items = [(28, 43, 47, 'Oper', dict(color=RED, lw=3.2)),
                 (96, 111, 115, 'Control', dict(color=BLUE, lw=3.2)),
                 (175, 189, 193, 'Members', dict(color=GREEN, lw=0.9, alpha=0.7)),
                 (262, 276, 281, 'Average', dict(color=AVG, lw=2.4, ls=(0, (1, 1))))]
        for x0, x1, xt, label, kw in items:
            fig.add_artist(Line2D([fx(x0), fx(x1)], [fy(yl), fy(yl)],
                                  transform=fig.transFigure, **kw))
            fig.text(fx(xt), fy(yl), label, ha='left', va='center', fontsize=8)
    else:
        items = [(29, 39, 'oper', RED), (86, 96, 'control', BLUE),
                 (158, 167, '50%', YELLOW), (213, 224, 'median', 'black')]
        for xs, xt, label, c in items:
            fig.add_artist(Rectangle((fx(xs), fy(yl + 3.5)), 7 / W, 7 / H,
                                     transform=fig.transFigure, facecolor=c,
                                     edgecolor='#777777', lw=0.6))
            fig.text(fx(xt), fy(yl), label, ha='left', va='center', fontsize=8)
    fig.text(fx(415), fy(top - 8), title, ha='center', va='center',
             fontsize=10, fontweight='bold')
    fig.text(fx(633), fy(top - 15.5), 'Infoplaza.nl - regio noordoost', ha='right',
             va='center', fontsize=6.8, color='#a0a0a0')
    fig.text(fx(633), fy(top - 6), 'Gemaakt: di 24 jan 22:00', ha='right',
             va='center', fontsize=6.8, color='#a0a0a0')


def members_frame(members, t):
    parts = []
    for n, m in enumerate(members):
        parts.append(pd.DataFrame({'t': t[:len(m)], 'v': m, 'member': n}))
    return pd.concat(parts, ignore_index=True)


def ensemble_panel(i, title, members, oper, control, avg, ylim, ystep, zero_line=False):
    ax = add_panel(i)
    style_panel(ax, (-6, 348), ylim, ystep)
    sns.lineplot(data=members_frame(members, hours), x='t', y='v', units='member',
                 estimator=None, color=GREEN, lw=0.85, alpha=0.55, legend=False,
                 ax=ax, zorder=2)
    if zero_line:
        ax.axhline(0, color='black', lw=2.2, zorder=2.5)
    sns.lineplot(x=hours[:len(avg)], y=avg, color=AVG, lw=2.4, ls=(0, (1, 1)),
                 ax=ax, zorder=3)
    sns.lineplot(x=hours[:len(control)], y=control, color=BLUE, lw=2.6, ax=ax, zorder=4)
    sns.lineplot(x=hours[:len(oper)], y=oper, color=RED, lw=2.6, ax=ax, zorder=5)
    ax.set_xlabel('')
    ax.set_ylabel('')
    header(i, title)
    return ax


ensemble_panel(0, 'Temperatuur 2m', temp_members, temp_oper, temp_control, temp_avg,
               (-20, 15), 5, zero_line=True)
ensemble_panel(1, 'Dauwpunt 2m', dew_members, dew_oper, dew_control, dew_avg,
               (-30, 15), 5)
ensemble_panel(2, 'Neerslag', rain_members, rain_oper, rain_control, rain_avg,
               (0, 10), 2)
ensemble_panel(3, '10m wind', wind_members, wind_oper, wind_control, wind_avg,
               (0, 16), 2)
ax5 = ensemble_panel(4, '10m windstoten', gust_members, gust_oper, gust_control, gust_avg,
                     (0, 30), 2)
ax5.axhline(gust_warn_high, color='#ff4cff', lw=1.8, ls=(0, (3, 2)), zorder=2.6)
ax5.axhline(gust_warn_low, color='#1c4848', lw=1.8, ls=(0, (1, 1)), zorder=2.6)

# cloud cover panel
ax6 = add_panel(5, left=24.5)
style_panel(ax6, (-5.1, 351), (0, 100), 10)
low = np.array(cloud_low)
high = np.array(cloud_high)
ax6.bar(cloud_hours, high - low, bottom=low, width=4.8, color=YELLOW,
        edgecolor='#bdbdd2', lw=0.6, zorder=1)
ax6.hlines(cloud_median, cloud_hours - 1.6, cloud_hours + 1.6, color='black',
           lw=1.0, zorder=2)
sns.lineplot(x=cloud_hours[:len(cloud_control)], y=cloud_control, color=BLUE,
             lw=2.2, ax=ax6, zorder=4)
sns.lineplot(x=cloud_hours[:len(cloud_oper)], y=cloud_oper, color=RED,
             lw=2.2, ax=ax6, zorder=5)
ax6.set_xlabel('')
ax6.set_ylabel('')
header(5, 'Bedekkingsgraad', cloud=True)

fig.savefig('out.png', dpi=100, facecolor='white')
